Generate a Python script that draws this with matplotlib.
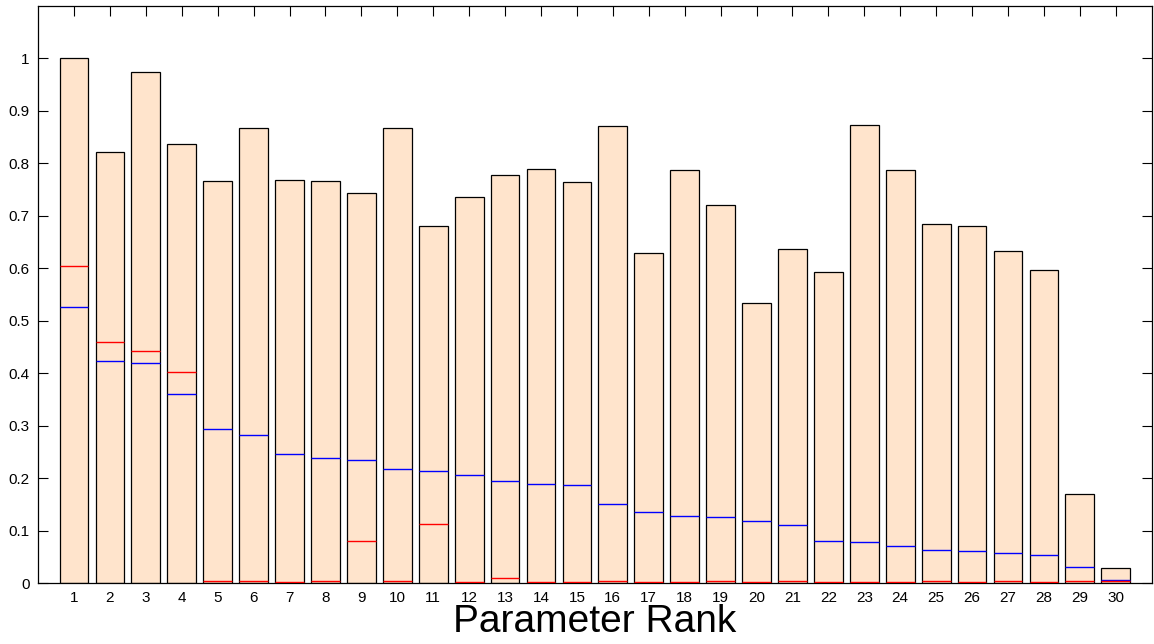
import numpy as np
import matplotlib
matplotlib.use('Agg')
from matplotlib import pyplot as plt

# Parameter ranks and their scores
ranks = np.arange(1, 31)
total = [1.000, 0.822, 0.975, 0.837, 0.766, 0.867, 0.768, 0.766, 0.744, 0.868,
         0.680, 0.735, 0.778, 0.789, 0.765, 0.871, 0.630, 0.787, 0.720, 0.533,
         0.636, 0.592, 0.873, 0.787, 0.684, 0.680, 0.633, 0.597, 0.169, 0.028]
first_order = [0.604, 0.460, 0.443, 0.402, 0.004, 0.004, 0.002, 0.003, 0.080, 0.003,
               0.113, 0.002, 0.009, 0.002, 0.002, 0.004, 0.002, 0.002, 0.003, 0.002,
               0.004, 0.002, 0.002, 0.002, 0.003, 0.002, 0.003, 0.002, 0.004, 0.003]
second_order = [0.526, 0.423, 0.419, 0.361, 0.293, 0.283, 0.246, 0.239, 0.234, 0.217,
                0.213, 0.206, 0.194, 0.188, 0.187, 0.151, 0.135, 0.127, 0.125, 0.118,
                0.111, 0.081, 0.078, 0.070, 0.062, 0.061, 0.058, 0.054, 0.031, 0.005]

BW = 0.8  # bar width

plt.rcParams['font.family'] = ['Liberation Sans', 'DejaVu Sans']
fig = plt.figure(figsize=[11.54, 6.44], dpi=100)
ax = fig.add_axes([0.033, 0.0947, 0.965, 0.896])

ax.bar(ranks, total, width=BW, color='#FFE4CC', edgecolor='black', linewidth=0.9, zorder=2)
ax.hlines(second_order, ranks - BW / 2, ranks + BW / 2, colors='blue', linewidth=1.0, zorder=3)
ax.hlines(first_order, ranks - BW / 2, ranks + BW / 2, colors='red', linewidth=1.0, zorder=3)

ax.set_xlim(0, 31)
ax.set_ylim(0, 1.1)
ax.set_xticks(ranks)
ax.set_xticklabels([str(r) for r in ranks])
yt = np.round(np.arange(0, 1.01, 0.1), 1)
ax.set_yticks(yt)
ax.set_yticklabels(['0' if v == 0 else ('1' if v == 1 else f'{v:g}') for v in yt])
ax.tick_params(direction='in', length=7.5, width=0.8, top=True, right=True,
               labelsize=11, pad=6)
for s in ax.spines.values():
    s.set_linewidth(0.9)

ax.set_xlabel('Parameter Rank', fontsize=28, labelpad=-1)

fig.savefig('out.png', dpi=100)
